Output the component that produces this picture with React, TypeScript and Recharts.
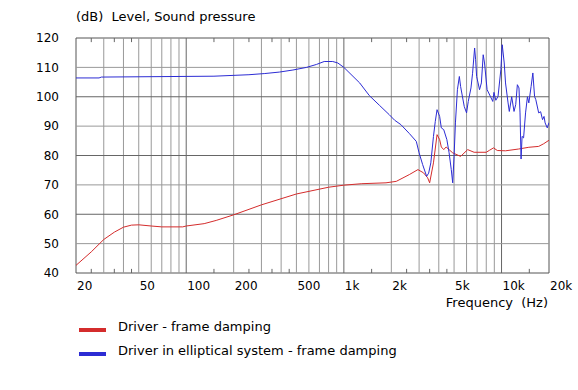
import { Line, LineChart, ReferenceArea, ReferenceLine, XAxis, YAxis } from "recharts";

const redFreq = [
  20, 25, 30, 35, 40, 45, 50, 60, 70, 80, 95, 100, 130, 155, 200, 300, 500, 800, 1000, 1300, 1850,
  2150, 2600, 2950, 3200, 3400, 3500, 3700, 3900, 4050, 4150, 4300, 4450, 4900, 5500, 6100, 6700,
  8000, 8400, 8900, 9400, 10600, 12800, 14900, 17200, 18500, 20000,
];
const redLevel = [
  42.6, 47.2, 51.4, 53.9, 55.6, 56.3, 56.4, 56.0, 55.7, 55.7, 55.7, 56.0, 56.8, 57.9, 59.8, 63.2,
  66.9, 69.2, 69.9, 70.4, 70.7, 71.2, 73.5, 75.2, 74.1, 72.4, 70.7, 77.5, 87.1, 85.4, 82.9, 82.0,
  82.9, 80.9, 79.7, 82.0, 81.1, 81.1, 81.8, 82.6, 81.7, 81.6, 82.2, 82.8, 83.1, 84.0, 85.2,
];

const blueFreq = [
  20, 28, 29, 150, 250, 315, 390, 475, 580, 670, 750, 850, 915, 1000, 1260, 1450, 1680, 1940, 2100,
  2300, 2600, 2880, 3000, 3160, 3350, 3450, 3560, 3700, 3800, 3900, 4050, 4150, 4300, 4500, 4650,
  4800, 4900, 5000, 5100, 5250, 5400, 5500, 5800, 6000, 6150, 6400, 6550, 6750, 6850, 6950, 7100,
  7250, 7450, 7650, 7800, 8100, 8500, 8800, 8950, 9200, 9500, 9900, 10100, 10400, 10600, 11000,
  11200, 11600, 12000, 12300, 12600, 12900, 13100, 13300, 13500, 13800, 14200, 14600, 14900, 15400,
  15800, 16200, 16500, 17200, 17700, 18200, 18600, 18900, 19500, 20000,
];
const blueLevel = [
  106.4, 106.4, 106.7, 107.0, 107.5, 107.9, 108.4, 109.1, 110.0, 111.0, 112.0, 112.0, 111.5, 110.0,
  104.7, 100.4, 97.1, 93.9, 92.0, 90.5, 87.5, 84.8, 80.9, 76.9, 72.9, 74.0, 77.5, 86.5, 91.6, 95.6,
  93.3, 89.4, 88.8, 85.4, 80.9, 75.2, 70.7, 79.7, 91.1, 102.4, 106.9, 103.5, 96.7, 94.5, 98.4,
  103.0, 108.0, 116.6, 112.6, 106.9, 104.7, 102.4, 104.7, 114.3, 111.5, 102.4, 100.1, 98.4, 101.5,
  98.8, 100.1, 109.2, 117.7, 111.5, 104.7, 97.9, 95.0, 100.0, 95.0, 97.3, 104.1, 103.0, 94.5, 78.8,
  86.5, 86.0, 94.5, 100.0, 97.9, 103.5, 108.1, 100.1, 99.0, 94.5, 94.9, 92.2, 93.3, 91.1, 89.4, 91.2,
];

const xTicks = [20, 50, 100, 200, 500, 1000, 2000, 5000, 10000, 20000];
const xTickLabels = ["20", "50", "100", "200", "500", "1k", "2k", "5k", "10k", "20k"];
const yTicks = [40, 50, 60, 70, 80, 90, 100, 110, 120];

const lightGridX = [
  30, 40, 50, 60, 70, 80, 90, 200, 300, 400, 500, 600, 700, 800, 900, 2000, 3000, 4000, 5000, 6000,
  7000, 8000, 9000,
];
const darkGridX = [100, 1000, 10000];
const lightGridY = [50, 70, 90, 110];
const darkGridY = [60, 80, 100];
const minorTicks = [25, 35, 45, 150, 250, 350, 450, 1500, 2500, 3500, 4500, 15000];

const seriesNames = ["Driver - frame damping", "Driver in elliptical system - frame damping"];
const seriesColors = ["#d42c2c", "#2c2cd4"];

const redData = redFreq.map((f, i) => ({ f, v: redLevel[i] }));
const blueData = blueFreq.map((f, i) => ({ f, v: blueLevel[i] }));

const font = "'DejaVu Sans', Verdana, sans-serif";

const XTick = (props: any) => {
  const { x, index } = props;
  return (
    <text x={x + 1} y={290} textAnchor="start" fontSize={12} fontFamily={font} fill="#000">
      {xTickLabels[index]}
    </text>
  );
};

export default function App() {
  return (
    <div style={{ position: "absolute", left: 0, top: 0, width: 578, height: 390, background: "#fff" }}>
      <LineChart width={578} height={390} margin={{ top: 38, right: 29, bottom: 87, left: 16 }}>
        <XAxis
          dataKey="f"
          type="number"
          scale="log"
          domain={[20, 20000]}
          ticks={xTicks}
          interval={0}
          allowDataOverflow
          axisLine={false}
          tickLine={false}
          height={30}
          tick={<XTick />}
        />
        <YAxis
          type="number"
          domain={[40, 120]}
          ticks={yTicks}
          interval={0}
          width={60}
          axisLine={false}
          tickLine={false}
          tickSize={0}
          tickMargin={17}
          tick={{ fontSize: 12, fontFamily: font, fill: "#000" }}
        />
        {lightGridX.map((f) => (
          <ReferenceLine key={"lx" + f} x={f} stroke="#999" strokeWidth={1} />
        ))}
        {darkGridX.map((f) => (
          <ReferenceLine key={"dx" + f} x={f} stroke="#666" strokeWidth={1} />
        ))}
        {lightGridY.map((v) => (
          <ReferenceLine key={"ly" + v} y={v} stroke="#999" strokeWidth={1} />
        ))}
        {darkGridY.map((v) => (
          <ReferenceLine key={"dy" + v} y={v} stroke="#666" strokeWidth={1} />
        ))}
        {minorTicks.map((f) => (
          <ReferenceLine key={"mb" + f} segment={[{ x: f, y: 40 }, { x: f, y: 41.4 }]} stroke="#666" />
        ))}
        {minorTicks.map((f) => (
          <ReferenceLine key={"mt" + f} segment={[{ x: f, y: 118.6 }, { x: f, y: 120 }]} stroke="#666" />
        ))}
        <ReferenceArea x1={20} x2={20000} y1={40} y2={120} fill="none" stroke="#555" strokeWidth={1} />
        <Line
          data={redData}
          dataKey="v"
          stroke={seriesColors[0]}
          strokeWidth={1}
          dot={false}
          isAnimationActive={false}
        />
        <Line
          data={blueData}
          dataKey="v"
          stroke={seriesColors[1]}
          strokeWidth={1}
          dot={false}
          isAnimationActive={false}
        />
      </LineChart>
      <svg width={578} height={390} style={{ position: "absolute", left: 0, top: 0, pointerEvents: "none" }}>
        <text x={76} y={21} fontSize={13} fontFamily={font} fill="#000" style={{ whiteSpace: "pre" }}>
          {"(dB)  Level, Sound pressure"}
        </text>
        <text x={548} y={307} textAnchor="end" fontSize={13} fontFamily={font} fill="#000" style={{ whiteSpace: "pre" }}>
          {"Frequency  (Hz)"}
        </text>
        {seriesNames.map((name, i) => (
          <g key={name}>
            <rect x={79} y={328 + i * 24} width={27} height={4} fill={seriesColors[i]} />
            <text x={118} y={331 + i * 24} fontSize={13} fontFamily={font} fill="#000">
              {name}
            </text>
          </g>
        ))}
      </svg>
    </div>
  );
}
